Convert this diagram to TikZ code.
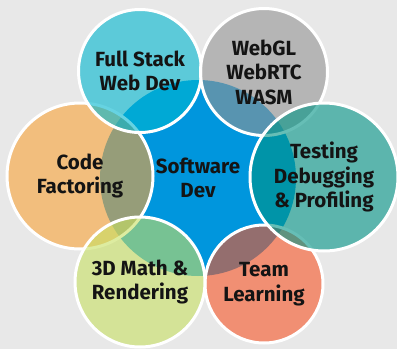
\documentclass[tikz,border=0pt]{standalone}
\usepackage{fontspec}
\setmainfont{Fira Sans}
\usepackage{xcolor}
\usepackage{tikz}
\usetikzlibrary{
  positioning
}
\definecolor{bgGray}{RGB}{232,232,232}
\definecolor{devBlue}{RGB}{0,150,221}
\definecolor{stackCyan}{RGB}{0,183,208}
\definecolor{webGray}{RGB}{147,147,147}
\definecolor{testTeal}{RGB}{0,148,134}
\definecolor{teamRed}{RGB}{248,84,37}
\definecolor{mathGreen}{RGB}{199,224,98}
\definecolor{codeOrange}{RGB}{250,163,55}

\begin{document}
\begin{tikzpicture}[x=1pt, y=-1pt,
    every node/.style={font=\bfseries\fontsize{20.5}{24.5}\selectfont, align=center, text=black!92},
    hub/.style={circle, fill=devBlue, minimum size=#1, inner sep=0pt},
    topic/.style={circle, draw=white, line width=3pt, fill opacity=0.6, text opacity=1, minimum size=#1, inner sep=0pt}]
\fill [bgGray] (0,0) rectangle (397,349);
\useasboundingbox (0,0) rectangle (397,349);
\node [hub=196pt] (dev) at (198,178) {Software\\Dev};
\node [topic=146pt, fill=codeOrange] (code) at (80,176) {Code\\Factoring};
\node [topic=123pt, fill=stackCyan] (stack) at (140,71) {Full Stack\\Web Dev};
\node [topic=127pt, fill=webGray] (web) at (264,72) {WebGL\\WebRTC\\WASM};
\node [topic=118pt, fill=teamRed] (team) at (264,284) {Team\\Learning};
\node [topic=148pt, fill=testTeal] (test) at (324,177) {Testing\\Debugging\\\& Profiling};
\node [topic=130pt, fill=mathGreen] (math) at (140,282) {3D Math \&\\Rendering};
\end{tikzpicture}
\end{document}
